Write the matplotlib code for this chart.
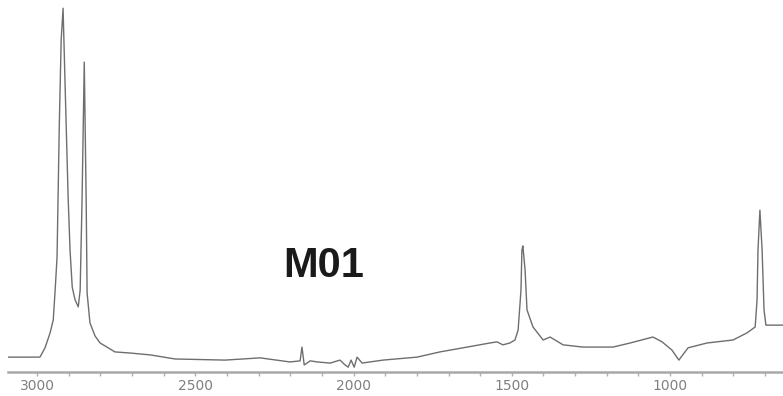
import numpy as np
import matplotlib
matplotlib.use("Agg")
import matplotlib.pyplot as plt
from matplotlib.ticker import MultipleLocator

# FTIR spectrum of sample M01 (absorbance, arbitrary units)
wavenumber = [3092, 3022, 2991, 2975, 2959, 2949, 2943, 2937, 2930, 2924,
              2918, 2912, 2902, 2896, 2889, 2880, 2870, 2864, 2858, 2851,
              2845, 2842, 2833, 2817, 2801, 2754, 2706, 2643, 2564, 2406,
              2295, 2201, 2169, 2163, 2156, 2137, 2115, 2074, 2043, 2027,
              2017, 2008, 1998, 1989, 1973, 1907, 1799, 1727, 1641, 1569,
              1547, 1528, 1506, 1490, 1480, 1471, 1468, 1465, 1458, 1452,
              1433, 1401, 1379, 1338, 1275, 1180, 1126, 1054, 1025, 994,
              972, 943, 883, 801, 757, 731, 725, 722, 716, 709,
              703, 697, 643]
absorbance = [0.040, 0.040, 0.040, 0.065, 0.105, 0.140, 0.220, 0.309, 0.659, 0.892,
              0.978, 0.785, 0.470, 0.328, 0.228, 0.194, 0.175, 0.220, 0.462, 0.833,
              0.462, 0.212, 0.132, 0.097, 0.078, 0.054, 0.051, 0.046, 0.035, 0.032,
              0.038, 0.027, 0.030, 0.067, 0.019, 0.030, 0.027, 0.024, 0.032, 0.019,
              0.013, 0.032, 0.013, 0.040, 0.024, 0.032, 0.040, 0.054, 0.067, 0.078,
              0.081, 0.073, 0.078, 0.086, 0.113, 0.220, 0.328, 0.339, 0.274, 0.167,
              0.121, 0.086, 0.094, 0.073, 0.067, 0.067, 0.078, 0.094, 0.081, 0.059,
              0.032, 0.065, 0.078, 0.086, 0.105, 0.121, 0.194, 0.328, 0.435, 0.328,
              0.167, 0.126, 0.126]
sample_name = "M01"

fig = plt.figure(figsize=(7.83, 3.96), dpi=100)
ax = fig.add_axes([8 / 783, 24 / 396, 1 - 8 / 783, 1 - 24 / 396])

ax.plot(wavenumber, absorbance, color="#6e6e6e", lw=1.0)

ax.set_xlim(3092, 643)
ax.set_ylim(0, 1.0)

for s in ["top", "right", "left"]:
    ax.spines[s].set_visible(False)
ax.spines["bottom"].set_color("#a8a8a8")
ax.spines["bottom"].set_linewidth(1.8)

ax.xaxis.set_major_locator(MultipleLocator(500))
ax.xaxis.set_minor_locator(MultipleLocator(100))
ax.tick_params(axis="x", which="both", direction="out", length=3, width=1,
               color="#b0b0b0", labelsize=10, labelcolor="#808080", pad=2)
ax.set_yticks([])

ax.text(0.355, 0.255, sample_name, transform=ax.transAxes, fontsize=30,
        family="Liberation Sans", fontweight="semibold", color="#1a1a1a",
        ha="left", va="baseline")

fig.savefig("out.png", dpi=100)
